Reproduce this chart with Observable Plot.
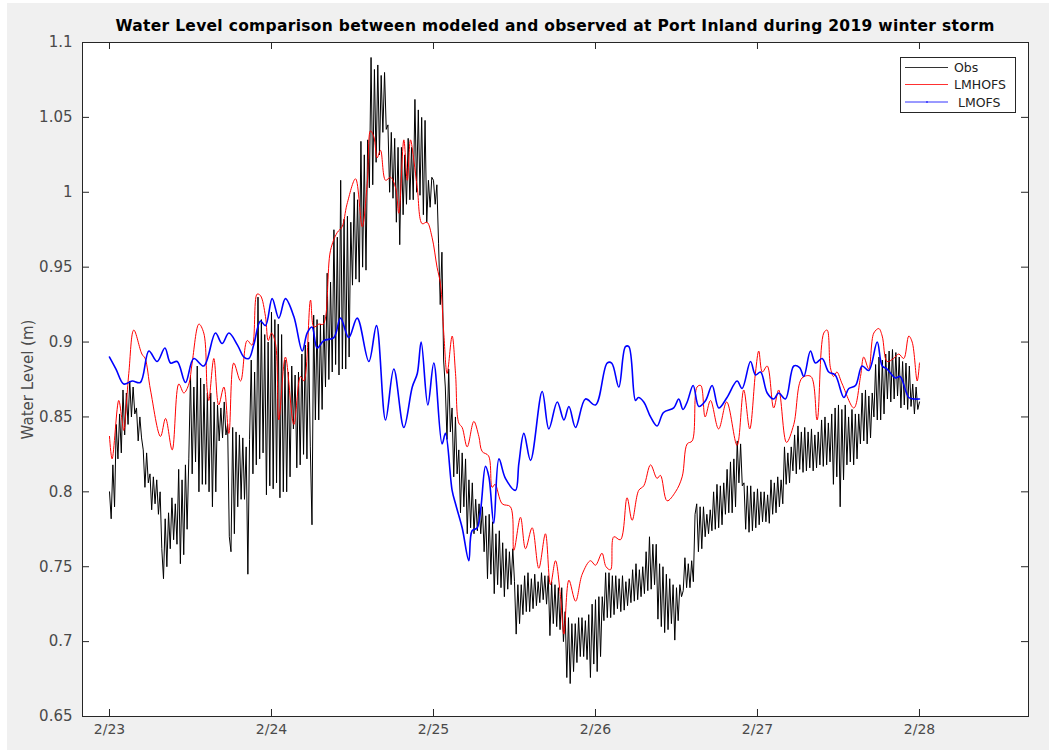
<!DOCTYPE html>
<html><head><meta charset="utf-8">
<script src="https://cdn.jsdelivr.net/npm/d3@7"></script>
<script src="https://cdn.jsdelivr.net/npm/@observablehq/plot@0.6"></script>
<style>
html,body{margin:0;padding:0;background:#fff;}
#wrap{position:relative;width:1049px;height:750px;overflow:hidden;}
#fig{position:absolute;left:7px;top:3px;}
#title{position:absolute;left:82px;width:946px;top:17px;text-align:center;font:bold 15.5px "DejaVu Sans";letter-spacing:0.3px;color:#000;line-height:18px;white-space:nowrap;}
#legend{position:absolute;left:900px;top:57px;}
</style></head><body>
<div id="wrap"><div id="fig"></div>
<div id="title">Water Level comparison between modeled and observed at Port Inland during 2019 winter storm</div>
<svg id="legend" width="117" height="57" font-family="DejaVu Sans" font-size="12.5">
<rect x="0.5" y="0.5" width="115" height="55" fill="#fff" stroke="#262626"/>
<line x1="5" x2="48" y1="10.5" y2="10.5" stroke="#333"/>
<line x1="5" x2="48" y1="27.5" y2="27.5" stroke="#ff3030"/>
<line x1="5" x2="48" y1="45" y2="45" stroke="#3535ff"/>
<circle cx="27" cy="45" r="1" fill="#3535ff"/>
<text x="54" y="15" fill="#222">Obs</text>
<text x="54" y="32" fill="#222">LMHOFS</text>
<text x="58" y="50" fill="#222">LMOFS</text>
</svg>
</div>
<script>
// x: days since 2/23 00:00
const tickDays = [0, 1, 2, 3, 4, 5];
const tickLabels = ["2/23", "2/24", "2/25", "2/26", "2/27", "2/28"];
const yTicks = [0.65, 0.7, 0.75, 0.8, 0.85, 0.9, 0.95, 1.0, 1.05, 1.1];

// Observed water level, one value every 15 minutes from 2/23 00:00
const obsStepHours = 0.25;
const obsDay0 = [
  0.800,0.782,0.818,0.790, 0.845,0.822,0.852,0.826, 0.868,0.838,0.866,0.845, 0.874,0.850,0.870,0.852,
  0.856,0.834,0.850,0.836, 0.828,0.803,0.826,0.806, 0.812,0.788,0.810,0.792, 0.808,0.785,0.800,0.762,
  0.742,0.782,0.750,0.786, 0.762,0.796,0.768,0.792, 0.765,0.815,0.752,0.808, 0.758,0.818,0.775,0.822,
  0.878,0.812,0.870,0.820, 0.884,0.800,0.876,0.805, 0.872,0.805,0.866,0.800, 0.866,0.790,0.860,0.800,
  0.858,0.834,0.856,0.836, 0.860,0.838,0.845,0.770, 0.760,0.843,0.772,0.840, 0.790,0.838,0.795,0.836,
  0.795,0.830,0.745,0.835, 0.888,0.812,0.880,0.818, 0.930,0.822,0.915,0.826, 0.905,0.798,0.900,0.804];
const obsDay1 = [
  0.920,0.802,0.915,0.806, 0.912,0.796,0.905,0.800, 0.888,0.800,0.880,0.810, 0.884,0.842,0.878,0.816,
  0.880,0.818,0.892,0.825, 0.898,0.822,0.900,0.830, 0.778,0.918,0.848,0.915, 0.848,0.912,0.855,0.918,
  0.870,0.946,0.875,0.940, 0.880,0.975,0.885,0.970, 0.878,1.008,0.882,0.982, 0.882,0.984,0.890,0.980,
  0.938,1.000,0.942,0.995, 0.940,1.034,0.950,1.025, 0.948,1.035,1.003,1.090, 1.005,1.082,1.020,1.085,
  1.025,1.078,1.040,1.080, 1.042,1.045,1.000,1.040, 0.996,1.036,0.980,1.030, 0.965,1.030,0.985,1.025,
  0.992,1.036,0.995,1.030, 0.995,1.062,1.000,1.055, 0.998,1.050,0.985,1.048, 0.980,1.008,0.990,1.010];
const obsDay2 = [
  1.008,0.992,1.005,0.966, 0.925,0.960,0.888,0.870, 0.835,0.882,0.840,0.856, 0.810,0.850,0.812,0.828,
  0.786,0.826,0.790,0.822, 0.772,0.808,0.776,0.806, 0.772,0.795,0.774,0.792, 0.772,0.790,0.760,0.784,
  0.742,0.785,0.745,0.780, 0.732,0.772,0.738,0.774, 0.736,0.766,0.730,0.762, 0.735,0.760,0.738,0.762,
  0.740,0.705,0.738,0.712, 0.738,0.718,0.744,0.720, 0.746,0.720,0.742,0.722, 0.745,0.724,0.740,0.726,
  0.746,0.728,0.744,0.725, 0.744,0.704,0.740,0.712, 0.738,0.710,0.736,0.708, 0.736,0.700,0.720,0.676,
  0.716,0.672,0.712,0.680, 0.712,0.686,0.716,0.690, 0.716,0.690,0.714,0.688, 0.718,0.676,0.725,0.685];
const obsDay3 = [
  0.728,0.680,0.730,0.690, 0.730,0.714,0.746,0.716, 0.746,0.716,0.744,0.718, 0.744,0.722,0.742,0.720,
  0.744,0.721,0.740,0.724, 0.742,0.726,0.748,0.727, 0.752,0.728,0.748,0.730, 0.750,0.732,0.760,0.734,
  0.770,0.735,0.765,0.738, 0.765,0.715,0.752,0.710, 0.750,0.706,0.745,0.708, 0.742,0.712,0.738,0.701,
  0.736,0.714,0.738,0.730, 0.734,0.756,0.736,0.752, 0.736,0.754,0.740,0.785, 0.792,0.760,0.790,0.762,
  0.790,0.770,0.785,0.772, 0.788,0.774,0.800,0.775, 0.805,0.776,0.804,0.778, 0.806,0.785,0.815,0.786,
  0.820,0.786,0.822,0.790, 0.834,0.806,0.832,0.804, 0.806,0.775,0.804,0.773, 0.804,0.774,0.800,0.776];
const obsDay4 = [
  0.802,0.778,0.800,0.780, 0.800,0.780,0.798,0.779, 0.808,0.785,0.806,0.786, 0.810,0.790,0.808,0.792,
  0.830,0.805,0.826,0.806, 0.830,0.814,0.838,0.812, 0.844,0.815,0.840,0.813, 0.843,0.814,0.840,0.816,
  0.842,0.814,0.838,0.816, 0.840,0.818,0.848,0.817, 0.850,0.818,0.846,0.820, 0.852,0.805,0.856,0.810,
  0.858,0.790,0.855,0.808, 0.858,0.818,0.850,0.820, 0.855,0.818,0.852,0.822, 0.852,0.832,0.866,0.834,
  0.868,0.832,0.864,0.836, 0.866,0.850,0.885,0.848, 0.890,0.848,0.888,0.852, 0.892,0.862,0.894,0.860,
  0.895,0.862,0.893,0.864, 0.890,0.856,0.887,0.858, 0.886,0.855,0.884,0.857, 0.872,0.852,0.870,0.855,
  0.860];

// LMHOFS model
const lmhofsDays = [0,0.016,0.057,0.077,0.088,0.119,0.150,0.200,0.220,0.253,0.315,0.346,0.387,0.428,0.459,0.490,0.510,0.552,0.582,0.603,0.613,0.644,0.674,0.706,0.737,0.767,0.809,0.850,0.880,0.911,0.932,0.963,0.980,
  1.000,1.025,1.045,1.086,1.138,1.179,1.200,1.241,1.262,1.292,1.320,1.364,1.405,1.436,1.466,1.519,1.560,1.591,1.611,1.632,1.652,1.673,1.704,1.735,1.766,1.786,1.817,1.838,1.858,1.879,1.900,1.930,1.960,1.991,
  2.022,2.043,2.064,2.084,2.115,2.136,2.156,2.177,2.208,2.249,2.280,2.300,2.340,2.362,2.380,2.424,2.475,2.496,2.537,2.568,2.609,2.650,2.691,2.722,2.753,2.784,2.805,2.836,2.877,2.918,2.969,
  3.000,3.040,3.065,3.093,3.113,3.154,3.195,3.226,3.267,3.298,3.340,3.380,3.401,3.442,3.494,3.535,3.566,3.597,3.627,3.650,3.677,3.710,3.760,3.810,3.874,3.915,3.952,3.988,
  4.008,4.030,4.060,4.100,4.131,4.179,4.224,4.275,4.330,4.368,4.409,4.430,4.450,4.470,4.490,4.523,4.595,4.636,4.656,4.687,4.718,4.749,4.770,4.800,4.840,4.872,4.903,4.934,4.955,4.986,5.000];
const lmhofsLevels = [0.837,0.822,0.861,0.848,0.841,0.879,0.908,0.892,0.889,0.868,0.837,0.849,0.828,0.872,0.866,0.872,0.886,0.912,0.906,0.868,0.861,0.889,0.858,0.870,0.839,0.886,0.874,0.901,0.898,0.932,0.931,0.917,0.901,
  0.906,0.899,0.848,0.890,0.845,0.877,0.874,0.928,0.910,0.912,0.912,0.961,0.973,0.977,0.992,1.009,0.977,1.006,1.041,1.037,1.023,1.028,1.008,1.010,1.003,0.986,1.035,1.008,1.035,1.021,1.003,0.979,0.980,0.970,
  0.950,0.939,0.905,0.879,0.904,0.879,0.846,0.843,0.830,0.847,0.837,0.827,0.824,0.803,0.805,0.792,0.790,0.761,0.783,0.762,0.776,0.749,0.772,0.738,0.754,0.730,0.705,0.741,0.727,0.745,0.754,
  0.751,0.759,0.750,0.748,0.770,0.768,0.796,0.781,0.801,0.804,0.818,0.809,0.811,0.794,0.800,0.810,0.832,0.834,0.870,0.871,0.850,0.861,0.842,0.860,0.831,0.868,0.842,0.880,
  0.894,0.880,0.884,0.856,0.868,0.833,0.845,0.876,0.877,0.848,0.906,0.908,0.883,0.877,0.880,0.872,0.856,0.877,0.890,0.882,0.906,0.909,0.904,0.887,0.889,0.892,0.889,0.904,0.900,0.874,0.886];

// LMOFS model
const lmofsDays = [0,0.040,0.088,0.140,0.190,0.243,0.294,0.342,0.377,0.418,0.469,0.520,0.582,0.654,0.695,0.737,0.790,0.830,0.860,0.890,0.932,0.963,
  1.004,1.045,1.086,1.138,1.190,1.220,1.250,1.282,1.323,1.385,1.426,1.477,1.529,1.601,1.648,1.704,1.755,1.817,1.869,1.900,1.924,1.965,
  2.002,2.053,2.074,2.115,2.136,2.177,2.218,2.238,2.270,2.321,2.342,2.372,2.404,2.444,2.506,2.527,2.558,2.599,2.671,2.712,2.764,2.805,2.836,2.877,2.938,
  3.000,3.072,3.100,3.144,3.185,3.206,3.247,3.265,3.298,3.340,3.380,3.420,3.483,3.514,3.540,3.566,3.603,3.638,3.680,3.720,3.761,3.812,3.874,3.905,3.957,3.988,
  4.019,4.060,4.100,4.130,4.173,4.224,4.260,4.286,4.327,4.358,4.399,4.440,4.480,4.533,4.564,4.605,4.646,4.687,4.739,4.770,4.800,4.852,4.880,4.934,4.965,5.000];
const lmofsLevels = [0.890,0.882,0.872,0.874,0.873,0.894,0.887,0.896,0.886,0.887,0.873,0.889,0.884,0.906,0.899,0.906,0.898,0.890,0.889,0.898,0.914,0.911,
  0.929,0.916,0.929,0.917,0.894,0.906,0.910,0.896,0.901,0.903,0.916,0.903,0.916,0.887,0.911,0.848,0.882,0.843,0.870,0.879,0.900,0.858,
  0.886,0.832,0.839,0.801,0.792,0.776,0.754,0.774,0.776,0.817,0.810,0.779,0.822,0.809,0.801,0.819,0.839,0.821,0.867,0.842,0.860,0.848,0.857,0.843,0.862,
  0.858,0.886,0.886,0.870,0.897,0.897,0.861,0.863,0.860,0.850,0.844,0.853,0.856,0.862,0.855,0.860,0.871,0.857,0.861,0.871,0.856,0.863,0.874,0.869,0.887,0.878,
  0.880,0.866,0.862,0.866,0.862,0.884,0.883,0.877,0.894,0.886,0.889,0.880,0.878,0.863,0.869,0.871,0.884,0.881,0.900,0.884,0.882,0.876,0.877,0.863,0.862,0.862];

const obsLevels = [...obsDay0, ...obsDay1, ...obsDay2, ...obsDay3, ...obsDay4];
const obs = obsLevels.map((v, i) => ({d: i * obsStepHours / 24, v}));
const lmhofs = lmhofsDays.map((d, i) => ({d, v: lmhofsLevels[i]}));
const lmofs = lmofsDays.map((d, i) => ({d, v: lmofsLevels[i]}));

const W = 1042, H = 747, mL = 75, mR = 21, mT = 39, mB = 34;
const pw = W - mL - mR, ph = H - mT - mB, tk = 7;
const yFmt = d => String(+d.toFixed(2));

const chart = Plot.plot({
  width: W, height: H,
  marginLeft: mL, marginRight: mR, marginTop: mT, marginBottom: mB,
  style: {background: "#f0f0f0", fontFamily: "DejaVu Sans", fontSize: "14px", color: "#4a4a4a"},
  x: {domain: [-1/6, 5.673]},
  y: {domain: [0.65, 1.1]},
  marks: [
    Plot.frame({fill: "white", stroke: null}),
    Plot.line(obs, {x: "d", y: "v", stroke: "#000", strokeWidth: 1}),
    Plot.line(lmhofs, {x: "d", y: "v", stroke: "#ff0000", strokeWidth: 1, curve: "catmull-rom"}),
    Plot.line(lmofs, {x: "d", y: "v", stroke: "#0000ff", strokeWidth: 1.6, curve: "catmull-rom"}),
    Plot.frame({stroke: "#262626", strokeWidth: 1}),
    Plot.ruleX(tickDays, {x: d => d, insetTop: ph - tk, stroke: "#262626"}),
    Plot.ruleX(tickDays, {x: d => d, insetBottom: ph - tk, stroke: "#262626"}),
    Plot.ruleY(yTicks, {y: d => d, insetRight: pw - tk, stroke: "#262626"}),
    Plot.ruleY(yTicks, {y: d => d, insetLeft: pw - tk, stroke: "#262626"}),
    Plot.axisX({ticks: tickDays, tickFormat: d => tickLabels[tickDays.indexOf(d)], tickSize: 0, tickPadding: 8, label: null}),
    Plot.axisY({ticks: yTicks, tickFormat: yFmt, tickSize: 0, tickPadding: 10, label: "Water Level (m)", labelAnchor: "center", labelArrow: "none", labelOffset: 60, fontSize: 15})
  ]
});
document.getElementById("fig").appendChild(chart);
</script>
</body></html>
